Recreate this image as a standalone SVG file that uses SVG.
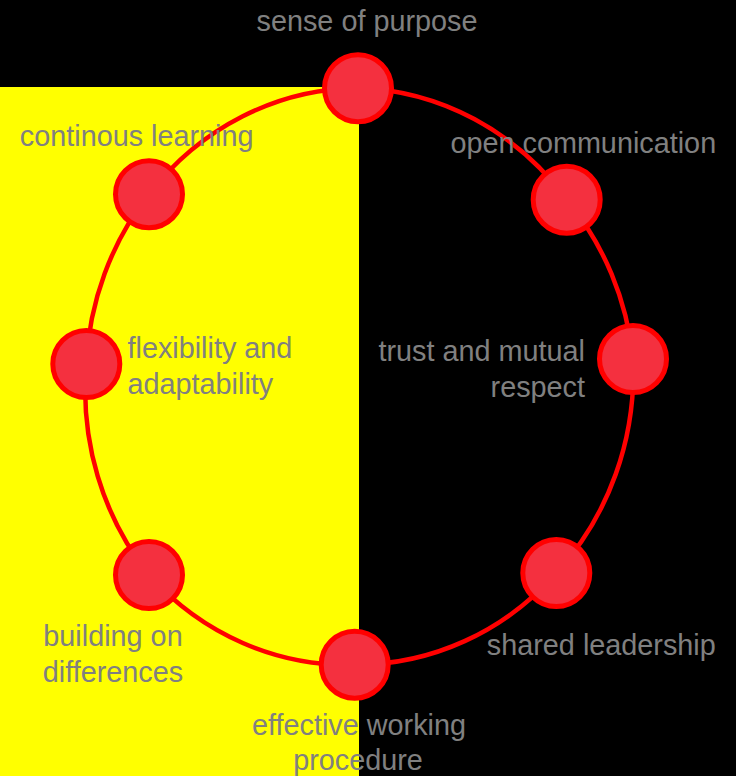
<svg xmlns="http://www.w3.org/2000/svg" width="736" height="776" viewBox="0 0 736 776">
<style>
.bg{fill:#000000}
.half{fill:#ffff00}
.ring{fill:none;stroke:#ff0000;stroke-width:4.5}
.node circle{fill:#f4303f;stroke:#ff0000;stroke-width:5}
.lbl{font-family:"Liberation Sans",Arial,sans-serif;font-size:28.8px;fill:#808080}
.m{text-anchor:middle}
.e{text-anchor:end}
</style>
<rect class="bg" x="0" y="0" width="736" height="776"/>
<rect class="half" x="0" y="87" width="359" height="689"/>
<g id="connectors">
<path class="ring" d="M358,88 A273 288 0 0 1 566.7,199.7 A273 288 0 0 1 633,359 A273 288 0 0 1 556.3,573 A273 288 0 0 1 354.7,664.7 A273 288 0 0 1 149,575 A273 288 0 0 1 86.3,364 A273 288 0 0 1 149,194.2 A273 288 0 0 1 358,88 Z"/>
</g>
<g id="node-sense-of-purpose" class="node">
<circle cx="358" cy="88.2" r="33.5"/>
<text class="lbl m" x="367" y="31">sense of purpose</text>
</g>
<g id="node-open-communication" class="node">
<circle cx="566.7" cy="199.7" r="33.5"/>
<text class="lbl m" x="583.3" y="153.3">open communication</text>
</g>
<g id="node-trust" class="node">
<circle cx="633" cy="359" r="33.5"/>
<text class="lbl e" x="585" y="360.7">trust and mutual</text>
<text class="lbl e" x="585" y="396.7">respect</text>
</g>
<g id="node-shared-leadership" class="node">
<circle cx="556.3" cy="573" r="33.5"/>
<text class="lbl m" x="601.3" y="655">shared leadership</text>
</g>
<g id="node-effective-working" class="node">
<circle cx="354.7" cy="664.7" r="33.5"/>
<text class="lbl m" x="359" y="735">effective working</text>
<text class="lbl m" x="358" y="770">procedure</text>
</g>
<g id="node-building-on-differences" class="node">
<circle cx="149" cy="575" r="33.5"/>
<text class="lbl m" x="113" y="645.5">building on</text>
<text class="lbl m" x="113" y="681.5">differences</text>
</g>
<g id="node-flexibility" class="node">
<circle cx="86.3" cy="364" r="33.5"/>
<text class="lbl" x="127.5" y="357.5">flexibility and</text>
<text class="lbl" x="127.5" y="393.5">adaptability</text>
</g>
<g id="node-continous-learning" class="node">
<circle cx="149" cy="194.2" r="33.5"/>
<text class="lbl m" x="136.7" y="146">continous learning</text>
</g>
</svg>
